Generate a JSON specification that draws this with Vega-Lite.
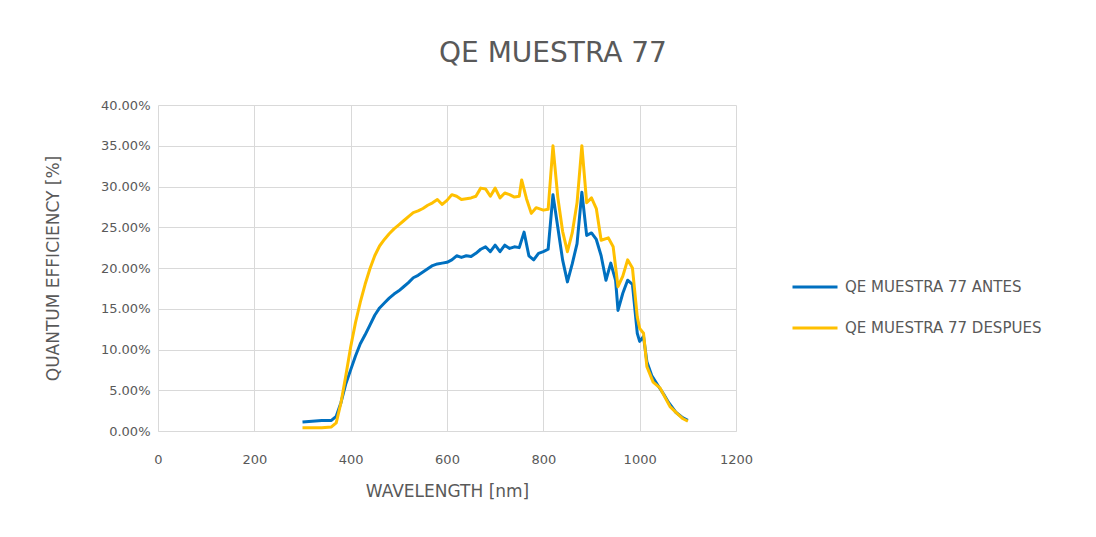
{
  "$schema": "https://vega.github.io/schema/vega-lite/v6.json",
  "width": 578,
  "height": 326,
  "autosize": {"type": "none"},
  "padding": {"left": 158, "top": 105, "right": 360, "bottom": 106},
  "background": "white",
  "title": {
    "text": "QE MUESTRA 77",
    "anchor": "middle",
    "frame": "group",
    "dx": 106,
    "offset": 31,
    "font": "DejaVu Sans",
    "fontSize": 28,
    "fontWeight": "normal",
    "color": "#595959"
  },
  "datasets": {
    "antes": [
      {"wl":300,"qe":1.1},{"wl":320,"qe":1.2},{"wl":340,"qe":1.3},{"wl":360,"qe":1.3},{"wl":370,"qe":1.8},
      {"wl":380,"qe":3.5},{"wl":390,"qe":5.8},{"wl":400,"qe":7.5},{"wl":410,"qe":9.2},{"wl":420,"qe":10.7},
      {"wl":430,"qe":11.8},{"wl":440,"qe":13.0},{"wl":450,"qe":14.2},{"wl":460,"qe":15.1},{"wl":470,"qe":15.7},
      {"wl":480,"qe":16.3},{"wl":490,"qe":16.8},{"wl":500,"qe":17.2},{"wl":510,"qe":17.7},{"wl":520,"qe":18.2},
      {"wl":530,"qe":18.8},{"wl":540,"qe":19.1},{"wl":550,"qe":19.5},{"wl":560,"qe":19.9},{"wl":570,"qe":20.3},
      {"wl":580,"qe":20.5},{"wl":590,"qe":20.6},{"wl":600,"qe":20.7},{"wl":610,"qe":21.0},{"wl":620,"qe":21.5},
      {"wl":630,"qe":21.3},{"wl":640,"qe":21.5},{"wl":650,"qe":21.4},{"wl":660,"qe":21.8},{"wl":670,"qe":22.3},
      {"wl":680,"qe":22.6},{"wl":690,"qe":22.0},{"wl":700,"qe":22.8},{"wl":710,"qe":22.0},{"wl":720,"qe":22.8},
      {"wl":730,"qe":22.4},{"wl":740,"qe":22.6},{"wl":750,"qe":22.5},{"wl":760,"qe":24.4},{"wl":770,"qe":21.5},
      {"wl":780,"qe":21.0},{"wl":790,"qe":21.8},{"wl":800,"qe":22.0},{"wl":810,"qe":22.3},{"wl":820,"qe":29.0},
      {"wl":830,"qe":25.0},{"wl":840,"qe":21.0},{"wl":850,"qe":18.3},{"wl":860,"qe":20.5},{"wl":870,"qe":23.0},
      {"wl":880,"qe":29.3},{"wl":890,"qe":24.0},{"wl":900,"qe":24.3},{"wl":910,"qe":23.5},{"wl":920,"qe":21.5},
      {"wl":930,"qe":18.5},{"wl":940,"qe":20.6},{"wl":950,"qe":18.5},{"wl":955,"qe":14.8},{"wl":965,"qe":16.9},
      {"wl":975,"qe":18.5},{"wl":985,"qe":18.0},{"wl":995,"qe":12.0},{"wl":1000,"qe":11.0},{"wl":1008,"qe":11.6},
      {"wl":1015,"qe":8.5},{"wl":1025,"qe":6.8},{"wl":1040,"qe":5.4},{"wl":1050,"qe":4.5},{"wl":1060,"qe":3.5},
      {"wl":1075,"qe":2.3},{"wl":1090,"qe":1.6},{"wl":1100,"qe":1.3}
    ],
    "despues": [
      {"wl":300,"qe":0.4},{"wl":320,"qe":0.4},{"wl":340,"qe":0.4},{"wl":360,"qe":0.5},{"wl":370,"qe":1.0},
      {"wl":380,"qe":3.5},{"wl":390,"qe":6.8},{"wl":400,"qe":10.3},{"wl":410,"qe":13.3},{"wl":420,"qe":15.8},
      {"wl":430,"qe":18.0},{"wl":440,"qe":19.9},{"wl":450,"qe":21.5},{"wl":460,"qe":22.7},{"wl":470,"qe":23.5},
      {"wl":480,"qe":24.2},{"wl":490,"qe":24.8},{"wl":500,"qe":25.3},{"wl":510,"qe":25.8},{"wl":520,"qe":26.3},
      {"wl":530,"qe":26.8},{"wl":540,"qe":27.0},{"wl":550,"qe":27.3},{"wl":560,"qe":27.7},{"wl":570,"qe":28.0},
      {"wl":580,"qe":28.4},{"wl":590,"qe":27.8},{"wl":600,"qe":28.3},{"wl":610,"qe":29.0},{"wl":620,"qe":28.8},
      {"wl":630,"qe":28.4},{"wl":640,"qe":28.5},{"wl":650,"qe":28.6},{"wl":660,"qe":28.8},{"wl":670,"qe":29.8},
      {"wl":680,"qe":29.7},{"wl":690,"qe":28.8},{"wl":700,"qe":29.8},{"wl":710,"qe":28.6},{"wl":720,"qe":29.2},
      {"wl":730,"qe":29.0},{"wl":740,"qe":28.7},{"wl":750,"qe":28.8},{"wl":755,"qe":30.8},{"wl":765,"qe":28.5},
      {"wl":775,"qe":26.7},{"wl":785,"qe":27.4},{"wl":800,"qe":27.1},{"wl":810,"qe":27.2},{"wl":820,"qe":35.0},
      {"wl":830,"qe":28.7},{"wl":840,"qe":24.5},{"wl":850,"qe":22.0},{"wl":860,"qe":24.3},{"wl":870,"qe":28.0},
      {"wl":880,"qe":35.0},{"wl":890,"qe":28.0},{"wl":900,"qe":28.6},{"wl":910,"qe":27.3},{"wl":920,"qe":23.4},
      {"wl":935,"qe":23.7},{"wl":945,"qe":22.6},{"wl":955,"qe":17.7},{"wl":965,"qe":19.0},{"wl":975,"qe":21.0},
      {"wl":985,"qe":20.0},{"wl":995,"qe":14.0},{"wl":1000,"qe":12.6},{"wl":1008,"qe":12.0},{"wl":1015,"qe":7.9},
      {"wl":1028,"qe":6.0},{"wl":1042,"qe":5.3},{"wl":1052,"qe":4.2},{"wl":1063,"qe":3.0},{"wl":1077,"qe":2.2},
      {"wl":1090,"qe":1.5},{"wl":1100,"qe":1.2}
    ]
  },
  "encoding": {
    "x": {
      "field": "wl", "type": "quantitative",
      "scale": {"domain": [0, 1200], "nice": false},
      "axis": {
        "title": "WAVELENGTH [nm]",
        "values": [0, 200, 400, 600, 800, 1000, 1200],
        "format": "d",
        "labelFlush": false,
        "grid": true, "gridColor": "#d9d9d9", "gridWidth": 1,
        "domain": true, "domainColor": "#d9d9d9",
        "ticks": false,
        "labelPadding": 22,
        "labelFont": "DejaVu Sans", "labelFontSize": 13, "labelColor": "#595959",
        "titleFont": "DejaVu Sans", "titleFontSize": 17, "titleFontWeight": "normal", "titleColor": "#595959",
        "titlePadding": 17
      }
    },
    "y": {
      "field": "qe", "type": "quantitative",
      "scale": {"domain": [0, 40], "nice": false},
      "axis": {
        "title": "QUANTUM EFFICIENCY [%]",
        "values": [0, 5, 10, 15, 20, 25, 30, 35, 40],
        "labelExpr": "format(datum.value, '.2f') + '%'",
        "grid": true, "gridColor": "#d9d9d9", "gridWidth": 1,
        "domain": false, "ticks": false,
        "labelPadding": 8,
        "labelFont": "DejaVu Sans", "labelFontSize": 13, "labelColor": "#595959",
        "titleFont": "DejaVu Sans", "titleFontSize": 17, "titleFontWeight": "normal", "titleColor": "#595959",
        "titlePadding": 38
      }
    },
    "color": {
      "type": "nominal",
      "scale": {
        "domain": ["QE MUESTRA 77 ANTES", "QE MUESTRA 77 DESPUES"],
        "range": ["#0070C0", "#FFC000"]
      },
      "legend": {
        "title": null,
        "orient": "none",
        "legendX": 633,
        "legendY": 158,
        "symbolType": "stroke",
        "symbolSize": 2025,
        "symbolStrokeWidth": 3,
        "rowPadding": 9,
        "labelOffset": 6,
        "labelFont": "DejaVu Sans", "labelFontSize": 15, "labelColor": "#595959",
        "labelLimit": 400
      }
    }
  },
  "layer": [
    {
      "data": {"name": "antes"},
      "mark": {"type": "line", "strokeWidth": 3, "strokeJoin": "round"},
      "encoding": {"color": {"datum": "QE MUESTRA 77 ANTES"}}
    },
    {
      "data": {"name": "despues"},
      "mark": {"type": "line", "strokeWidth": 3, "strokeJoin": "round"},
      "encoding": {"color": {"datum": "QE MUESTRA 77 DESPUES"}}
    }
  ],
  "config": {"view": {"stroke": null}}
}
